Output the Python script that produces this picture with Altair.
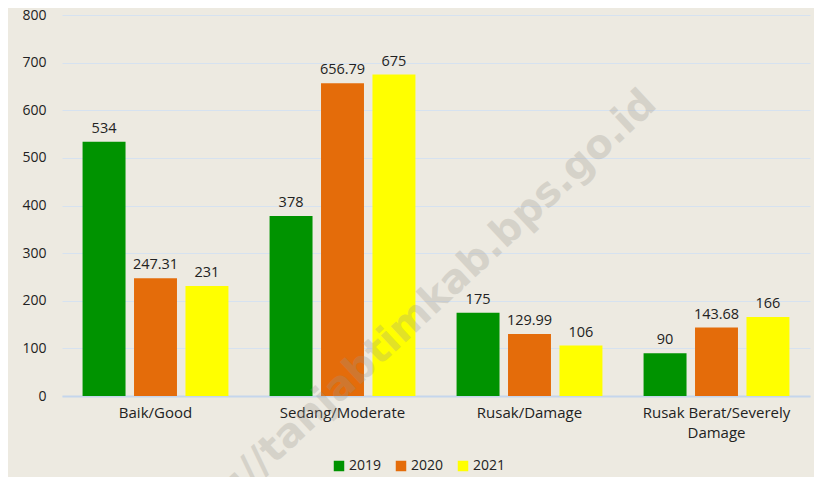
import altair as alt
import pandas as pd

categories = ["Baik/Good", "Sedang/Moderate", "Rusak/Damage", "Rusak Berat/Severely Damage"]
years = ["2019", "2020", "2021"]
v2019 = [534, 378, 175, 90]
v2020 = [247.31, 656.79, 129.99, 143.68]
v2021 = [231, 675, 106, 166]
colors = ["#009300", "#E46C0A", "#FFFF00"]
y_ticks = [0, 100, 200, 300, 400, 500, 600, 700, 800]

rows = []
for yr, vals in zip(years, [v2019, v2020, v2021]):
    for c, v in zip(categories, vals):
        rows.append({"category": c, "year": yr, "value": v, "label": f"{v:g}"})
df = pd.DataFrame(rows)

FONT = "Open Sans"

base = alt.Chart(df).encode(
    x=alt.X("category:N", sort=categories, title=None,
            scale=alt.Scale(paddingInner=0.22, paddingOuter=0.11),
            axis=alt.Axis(labelAngle=0, ticks=False, domain=True, domainColor="#C5D6EC",
                          domainWidth=2, labelPadding=9, labelFontSize=15,
                          labelLineHeight=20,
                          labelColor="#222222", labelFont=FONT,
                          labelExpr="datum.label == 'Rusak Berat/Severely Damage' ? ['Rusak Berat/Severely', 'Damage'] : datum.label")),
    xOffset=alt.XOffset("year:N", sort=years, scale=alt.Scale(paddingInner=0.165, paddingOuter=0)),
)

bars = base.mark_bar().encode(
    y=alt.Y("value:Q", title=None,
            scale=alt.Scale(domain=[0, 800], nice=False),
            axis=alt.Axis(values=y_ticks, ticks=False, domain=False, grid=True,
                          gridColor="#D6E2F0", gridWidth=1, labelPadding=16,
                          labelFontSize=14, labelColor="#222222", labelFont=FONT)),
    color=alt.Color("year:N", sort=years, title=None,
                    scale=alt.Scale(domain=years, range=colors),
                    legend=alt.Legend(orient="none", legendX=270, legendY=444,
                                      direction="horizontal", symbolType="square",
                                      symbolSize=110, symbolStrokeWidth=0,
                                      labelFontSize=14, labelFont=FONT, labelColor="#222222",
                                      columnPadding=12, labelOffset=3)),
)

labels = base.mark_text(dy=-13, fontSize=14.5, font=FONT, color="#222222").encode(
    y=alt.Y("value:Q"),
    text=alt.Text("label:N"),
)

wm_df = pd.DataFrame({"t": ["https://tanjabtimkab.bps.go.id"]})
watermark = alt.Chart(wm_df).mark_text(
    angle=317, fontSize=40, fontWeight="bold", font="DejaVu Sans", color="#9A968E", opacity=0.28,
    align="center", baseline="middle"
).encode(x=alt.value(336), y=alt.value(318), text="t:N")

chart = alt.layer(bars, labels, watermark).properties(
    width=748, height=381,
    autosize=alt.AutoSizeParams(type="none"),
    padding={"left": 54, "top": 7, "right": 4, "bottom": 81},
    background="#EDEAE1",
).configure_view(stroke=None)

chart.save("out.html", embed_options={"renderer": "svg", "actions": False})
